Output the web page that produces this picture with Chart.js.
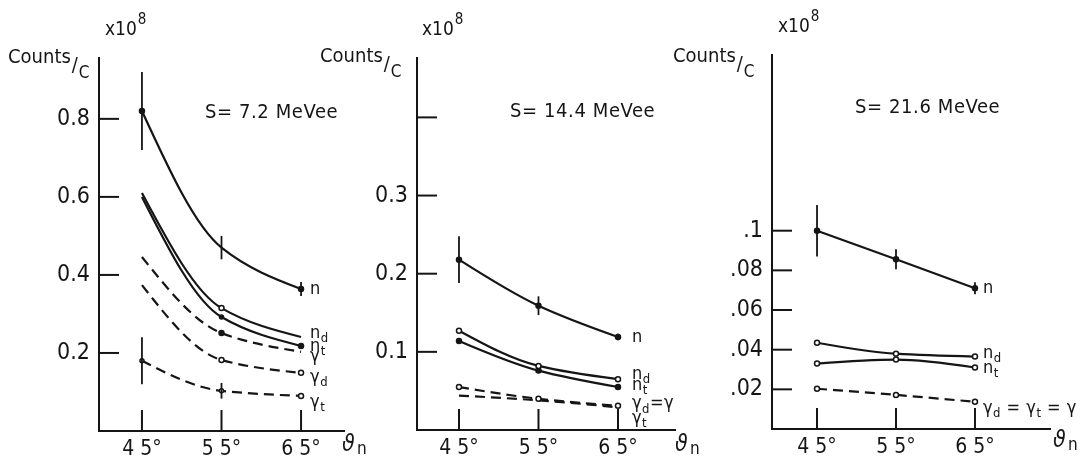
<!DOCTYPE html>
<html>
<head>
<meta charset="utf-8">
<script src="https://cdn.jsdelivr.net/npm/chart.js@4"></script>
<style>
body { margin: 0; background: #fff; width: 1082px; height: 469px; overflow: hidden; position: relative; }
canvas { position: absolute; left: 0; top: 0; }
</style>
</head>
<body>
<canvas id="p1" width="1082" height="469"></canvas>
<canvas id="p2" width="1082" height="469"></canvas>
<canvas id="p3" width="1082" height="469"></canvas>
<script>
// angles (deg) and tick labels shared by all three panels
const angles = [45, 55, 65];
const xTickLabels = ['4 5°', '5 5°', '6 5°'];

// panel 1: S = 7.2 MeVee (x10^8 counts/C)
const p1N   = [0.82, 0.47, 0.364];
const p1Nd  = [0.61, 0.315, 0.241];
const p1Nt  = [0.60, 0.292, 0.218];
const p1G   = [0.446, 0.251, 0.203];
const p1Gd  = [0.374, 0.182, 0.149];
const p1Gt  = [0.18, 0.103, 0.09];
const p1ErrN  = [0.10, 0.03, 0.018];
const p1ErrGt = [0.06, 0.02, 0];
const p1YTicks  = [0.2, 0.4, 0.6, 0.8];
const p1YLabels = ['0.2', '0.4', '0.6', '0.8'];

// panel 2: S = 14.4 MeVee
const p2N   = [0.218, 0.159, 0.119];
const p2Nd  = [0.127, 0.082, 0.065];
const p2Nt  = [0.114, 0.076, 0.055];
const p2Gd  = [0.055, 0.040, 0.031];
const p2Gt  = [0.044, 0.038, 0.029];
const p2ErrN = [0.03, 0.012, 0.004];
const p2YTicks  = [0.1, 0.2, 0.3, 0.4];
const p2YLabels = ['0.1', '0.2', '0.3', ''];

// panel 3: S = 21.6 MeVee
const p3N   = [0.100, 0.0856, 0.071];
const p3Nd  = [0.0435, 0.038, 0.0365];
const p3Nt  = [0.033, 0.035, 0.031];
const p3G   = [0.0203, 0.0172, 0.0137];
const p3ErrN = [0.013, 0.005, 0.003];
const p3YTicks  = [0.02, 0.04, 0.06, 0.08, 0.1];
const p3YLabels = ['.02', '.04', '.06', '.08', '.1'];

const FONT = "'DejaVu Sans Condensed','DejaVu Sans',sans-serif";
const INK = '#151515';

// draws text where "_x" means subscript x
function drawRich(ctx, str, x, y, size) {
    let cx = x;
    for (let i = 0; i < str.length; i++) {
        let ch = str[i], s = size, dy = 0;
        if (ch === '_' && i + 1 < str.length) {
            ch = str[++i]; s = size * 0.72; dy = size * 0.3;
        }
        ctx.font = s + 'px ' + FONT;
        ctx.fillText(ch, cx, y + dy);
        cx += ctx.measureText(ch).width + 0.5;
    }
}

// smooth the 3-point curves like hand-drawn decays (PCHIP-style tangents)
const smoothCurves = {
    id: 'smoothCurves',
    beforeDatasetDraw(chart, args) {
        const meta = args.meta;
        meta.dataset.updateControlPoints(chart.chartArea, 'x');
        const pts = meta.data;
        const n = pts.length;
        const d = [];
        for (let i = 0; i < n - 1; i++) d.push((pts[i + 1].y - pts[i].y) / (pts[i + 1].x - pts[i].x));
        const m = [];
        for (let i = 1; i < n - 1; i++) {
            m[i] = d[i - 1] * d[i] > 0 ? 2 * d[i - 1] * d[i] / (d[i - 1] + d[i]) : 0;
        }
        const endSlope = (dd, mm) => {
            let s = (3 * dd - mm) / 2;
            if (s * dd <= 0) s = 0;
            else if (Math.abs(s) > 3 * Math.abs(dd)) s = 3 * dd;
            return s;
        };
        m[0] = endSlope(d[0], m[1]);
        m[n - 1] = endSlope(d[n - 2], m[n - 2]);
        for (let i = 0; i < n; i++) {
            const p = pts[i];
            if (i > 0) {
                const h = p.x - pts[i - 1].x;
                p.cp1x = p.x - h / 3; p.cp1y = p.y - m[i] * h / 3;
            }
            if (i < n - 1) {
                const h = pts[i + 1].x - p.x;
                p.cp2x = p.x + h / 3; p.cp2y = p.y + m[i] * h / 3;
            }
        }
    }
};

function makePanel(id, p) {
    const datasets = p.series.map(s => ({
        data: angles.map((a, i) => ({ x: a, y: s.data[i] })),
        borderColor: INK,
        borderWidth: 2.2,
        borderDash: s.dash ? [10, 6] : [],
        pointRadius: s.r || [2.5, 2.5, 2.5],
        pointBackgroundColor: s.open ? '#fff' : INK,
        pointBorderColor: INK,
        pointBorderWidth: 1.5,
        tension: 0.4,
        fill: false
    }));

    const deco = {
        id: 'deco' + id,
        afterDraw(chart) {
            const ctx = chart.ctx;
            const xs = chart.scales.x, ys = chart.scales.y;
            const area = chart.chartArea;
            ctx.save();
            ctx.strokeStyle = INK;
            ctx.fillStyle = INK;
            ctx.lineWidth = 2;
            // inward tick marks
            ys.ticks.forEach(t => {
                const y = ys.getPixelForValue(t.value);
                ctx.beginPath(); ctx.moveTo(area.left, y); ctx.lineTo(area.left + 20, y); ctx.stroke();
            });
            xs.ticks.forEach(t => {
                const x = xs.getPixelForValue(t.value);
                ctx.beginPath(); ctx.moveTo(x, area.bottom); ctx.lineTo(x, area.bottom - 21); ctx.stroke();
            });
            // error bars
            ctx.lineWidth = 1.8;
            p.errors.forEach(e => {
                const vals = p.series[e.ds].data;
                angles.forEach((a, i) => {
                    if (!e.err[i]) return;
                    const x = xs.getPixelForValue(a);
                    ctx.beginPath();
                    ctx.moveTo(x, ys.getPixelForValue(vals[i] + e.err[i]));
                    ctx.lineTo(x, ys.getPixelForValue(vals[i] - e.err[i]));
                    ctx.stroke();
                });
            });
            // series names at the right end
            ctx.textBaseline = 'middle';
            ctx.textAlign = 'left';
            p.series.forEach((s, k) => {
                const pt = chart.getDatasetMeta(k).data[2];
                drawRich(ctx, s.name, pt.x + s.lx, pt.y + s.ly, 18);
            });
            // texts
            ctx.textBaseline = 'alphabetic';
            ctx.font = '19px ' + FONT;
            ctx.fillText('x10', p.exp[0], p.exp[1]);
            const ew = ctx.measureText('x10').width;
            ctx.font = '15px ' + FONT;
            ctx.fillText('8', p.exp[0] + ew + 1, p.exp[1] - 11);
            ctx.font = '20px ' + FONT;
            ctx.fillText('Counts', p.counts[0], p.counts[1]);
            const cw = ctx.measureText('Counts').width;
            ctx.fillText('/', p.counts[0] + cw + 1, p.counts[1] + 8);
            ctx.font = '17px ' + FONT;
            ctx.fillText('C', p.counts[0] + cw + 8, p.counts[1] + 15);
            ctx.font = '20px ' + FONT;
            ctx.letterSpacing = '0.6px';
            ctx.fillText(p.title, p.titlePos[0], p.titlePos[1]);
            ctx.letterSpacing = '0px';
            ctx.font = 'italic 23px ' + FONT;
            ctx.fillText('ϑ', p.theta[0], p.theta[1]);
            ctx.font = '17px ' + FONT;
            ctx.fillText('n', p.theta[0] + 15, p.theta[1] + 3);
            ctx.restore();
        }
    };

    return new Chart(document.getElementById(id), {
        type: 'line',
        data: { datasets },
        options: {
            responsive: false,
            animation: false,
            events: [],
            layout: { padding: { left: p.left - 60, right: 1082 - p.right, top: p.top, bottom: 0 } },
            plugins: { legend: { display: false }, tooltip: { enabled: false } },
            scales: {
                x: {
                    type: 'linear', min: p.xMin, max: p.xMax,
                    grid: { display: false, drawTicks: false },
                    border: { display: true, color: INK, width: 2 },
                    afterBuildTicks: s => { s.ticks = angles.map(v => ({ value: v })); },
                    afterFit: s => { s.height = 469 - p.bottom; },
                    ticks: {
                        color: INK, padding: 6, autoSkip: false, maxRotation: 0,
                        font: { family: FONT, size: 21 },
                        callback: (v, i) => xTickLabels[i]
                    }
                },
                y: {
                    type: 'linear', min: 0, max: p.yMax,
                    grid: { display: false, drawTicks: false },
                    border: { display: true, color: INK, width: 2 },
                    afterBuildTicks: s => { s.ticks = p.yTicks.map(v => ({ value: v })); },
                    afterFit: s => { s.width = 60; },
                    ticks: {
                        color: INK, padding: 9,
                        font: { family: FONT, size: 23 },
                        callback: (v, i) => p.yLabels[i]
                    }
                }
            }
        },
        plugins: [smoothCurves, deco]
    });
}

makePanel('p1', {
    left: 99, right: 344, top: 58, bottom: 431,
    xMin: 39.6, xMax: 70.4, yMax: 0.956,
    yTicks: p1YTicks, yLabels: p1YLabels,
    series: [
        { data: p1N, name: 'n', lx: 9, ly: 0, r: [2.5, 0, 2.5] },
        { data: p1Nd, name: 'n_d', lx: 9, ly: -4, open: true, r: [0, 2.5, 0] },
        { data: p1Nt, name: 'n_t', lx: 9, ly: 0, r: [0, 2, 2.5] },
        { data: p1G, name: 'γ', lx: 9, ly: 5, dash: true, r: [0, 2.5, 0] },
        { data: p1Gd, name: 'γ_d', lx: 9, ly: 4, dash: true, r: [0, 2.5, 2.5], open: true },
        { data: p1Gt, name: 'γ_t', lx: 9, ly: 6, dash: true, r: [2, 2, 2.5], open: true }
    ],
    errors: [{ ds: 0, err: p1ErrN }, { ds: 5, err: p1ErrGt }],
    exp: [105, 35], counts: [8, 63], title: 'S= 7.2 MeVee', titlePos: [205, 118], theta: [342, 451]
});

makePanel('p2', {
    left: 417, right: 675, top: 58, bottom: 430,
    xMin: 39.72, xMax: 72.17, yMax: 0.476,
    yTicks: p2YTicks, yLabels: p2YLabels,
    series: [
        { data: p2N, name: 'n', lx: 14, ly: 0 },
        { data: p2Nd, name: 'n_d', lx: 14, ly: -5, open: true },
        { data: p2Nt, name: 'n_t', lx: 14, ly: -2 },
        { data: p2Gd, name: 'γ_d=γ', lx: 14, ly: -2, dash: true, open: true },
        { data: p2Gt, name: 'γ_t', lx: 14, ly: 11, dash: true, r: [0, 0, 0] }
    ],
    errors: [{ ds: 0, err: p2ErrN }],
    exp: [422, 35], counts: [320, 62], title: 'S= 14.4 MeVee', titlePos: [510, 117], theta: [675, 451]
});

makePanel('p3', {
    left: 772, right: 1050, top: 55, bottom: 429,
    xMin: 39.3, xMax: 74.5, yMax: 0.1886,
    yTicks: p3YTicks, yLabels: p3YLabels,
    series: [
        { data: p3N, name: 'n', lx: 8, ly: 0 },
        { data: p3Nd, name: 'n_d', lx: 8, ly: -3, open: true },
        { data: p3Nt, name: 'n_t', lx: 8, ly: 1, open: true },
        { data: p3G, name: 'γ_d = γ_t = γ', lx: 8, ly: 6, dash: true, open: true }
    ],
    errors: [{ ds: 0, err: p3ErrN }],
    exp: [778, 32], counts: [673, 62], title: 'S= 21.6 MeVee', titlePos: [855, 113], theta: [1053, 447]
});
</script>
</body>
</html>
